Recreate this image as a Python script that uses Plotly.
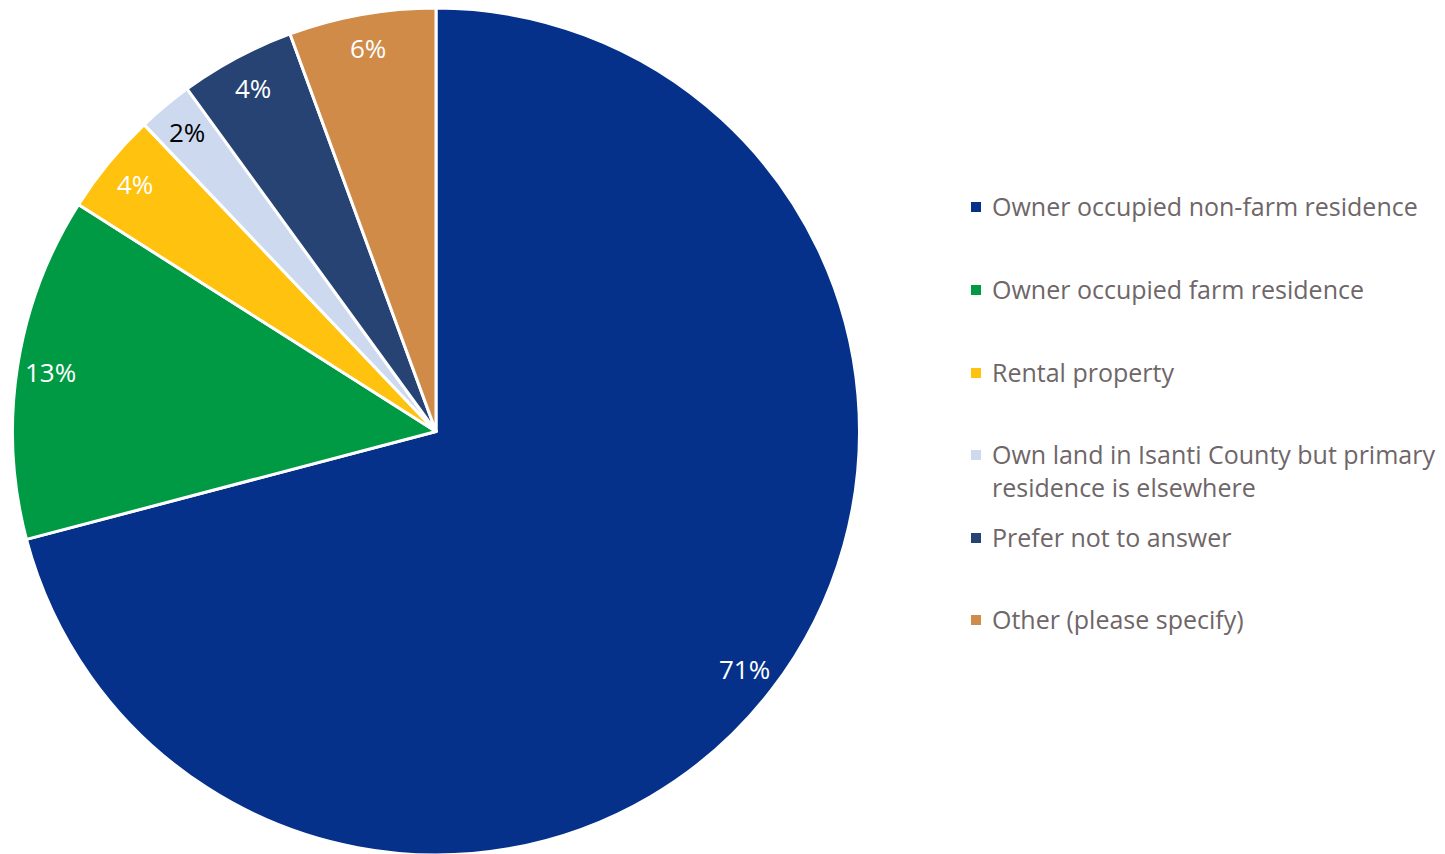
import math
import plotly.graph_objects as go

categories = [
    "Owner occupied non-farm residence",
    "Owner occupied farm residence",
    "Rental property",
    "Own land in Isanti County but primary<br>residence is elsewhere",
    "Prefer not to answer",
    "Other (please specify)",
]
values = [70.9, 13.1, 3.9, 2.1, 4.4, 5.6]
colors = ["#06318A", "#009A44", "#FFC20E", "#CDD9EE", "#264374", "#D08B48"]
label_colors = ["white", "white", "white", "black", "white", "white"]

W, H = 1445, 854
FONT = "Open Sans"
OFF = 8  # page body margin

# pie geometry (page pixels -> figure pixels)
x0, x1 = 12 - OFF, 860 - OFF
y_top, y_bot = 0, 847
dom_x = [x0 / W, x1 / W]
dom_y = [(H - y_bot) / H, 1]
cx = (x0 + x1) / 2
cy = (y_top + y_bot) / 2
r = min(x1 - x0, y_bot - y_top) / 2

fig = go.Figure(
    go.Pie(
        labels=categories,
        values=values,
        sort=False,
        direction="clockwise",
        rotation=0,
        marker=dict(colors=colors, line=dict(color="white", width=3)),
        textinfo="none",
        showlegend=False,
        domain=dict(x=dom_x, y=dom_y),
        hoverinfo="label+percent",
    )
)

total = sum(values)
cum = 0
annotations = []
for v, c in zip(values, label_colors):
    mid = (cum + v / 2) / total * 2 * math.pi
    cum += v
    px = cx + 0.92 * r * math.sin(mid)
    py = cy - 0.92 * r * math.cos(mid)
    annotations.append(dict(
        x=px / W, y=1 - py / H, xref="paper", yref="paper",
        text=f"{round(v / total * 100):.0f}%", showarrow=False,
        font=dict(family=FONT, size=26, color=c),
        xanchor="center", yanchor="middle",
    ))

# legend drawn as squares + text (page pixel rows)
legend_y = [207, 290, 373, 455, 538, 620]
shapes = []
for lab, col, ly in zip(categories, colors, legend_y):
    ly -= OFF
    annotations.append(dict(
        x=(990 - OFF) / W, y=1 - (ly - 20) / H, xref="paper", yref="paper",
        text=lab, showarrow=False, align="left",
        font=dict(family=FONT, size=25, color="#6e6668"),
        xanchor="left", yanchor="top",
    ))
    shapes.append(dict(
        type="rect", xref="paper", yref="paper",
        x0=(971 - OFF) / W, x1=(981 - OFF) / W,
        y0=1 - (ly + 5) / H, y1=1 - (ly - 5) / H,
        fillcolor=col, line=dict(width=0),
    ))

fig.update_layout(
    width=W, height=H,
    margin=dict(l=0, r=0, t=0, b=0),
    paper_bgcolor="white",
    plot_bgcolor="white",
    annotations=annotations,
    shapes=shapes,
)

fig.write_html("out.html")
